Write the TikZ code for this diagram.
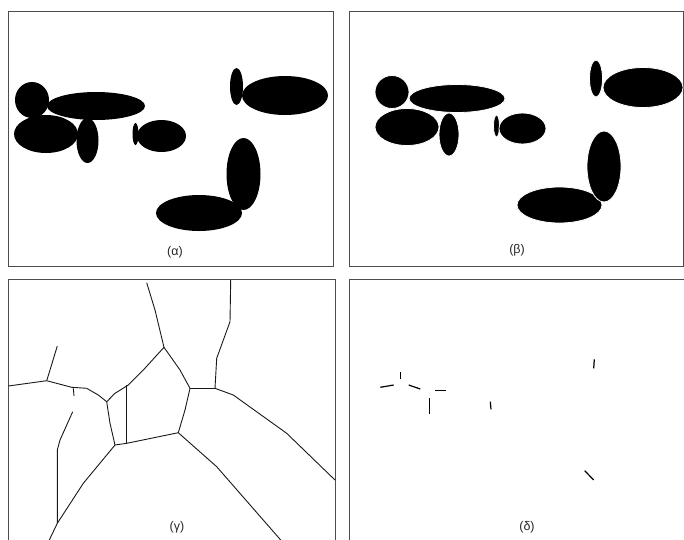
\documentclass[tikz,border=0pt]{standalone}
\usepackage{fontspec}
\setmainfont{Liberation Sans}
\begin{document}
\begin{tikzpicture}[x=1pt,y=-1pt,
  frame/.style={draw=black!70,line width=0.9pt},
  blob/.style={fill=black},
  blobsep/.style={fill=black,draw=white,line width=0.8pt},
  edge/.style={draw=black!90,line width=0.9pt,line join=round},
  seg/.style={draw=black,line width=1.2pt},
  lab/.style={font=\fontsize{12.5}{14}\selectfont,text=black!85}]
\useasboundingbox (0,0) rectangle (684,539);
\fill[white] (0,0) rectangle (684,539);
% frames
\draw[frame] (8,11) rectangle (333,266);
\draw[frame] (349,11) rectangle (683.5,266);
\draw[frame] (8,545) -- (8,279) -- (335,279) -- (335,545);
\draw[frame] (349,545) -- (349,279) -- (690,279);
% panel alpha
\fill[blob] (32,100) ellipse [x radius=17,y radius=18];
\fill[blob] (96,106) ellipse [x radius=49,y radius=14];
\fill[blob] (46,134) ellipse [x radius=32,y radius=19];
\fill[blob] (87.5,140.5) ellipse [x radius=11,y radius=22.5];
\fill[blob] (135.5,134) ellipse [x radius=3,y radius=11];
\fill[blob] (161.5,136) ellipse [x radius=24.5,y radius=16];
\fill[blob] (236.5,86.5) ellipse [x radius=6.5,y radius=18.5];
\fill[blob] (285,95.5) ellipse [x radius=43,y radius=19.5];
\fill[blob] (199,213) ellipse [x radius=43,y radius=18];
\fill[blob] (243.5,174) ellipse [x radius=17,y radius=36];
\node[lab] (la) at (175,252) {(α)};
% panel beta
\filldraw[blobsep] (392,92) ellipse [x radius=17,y radius=16.5];
\filldraw[blobsep] (457,98.5) ellipse [x radius=48,y radius=14];
\filldraw[blobsep] (407,127) ellipse [x radius=32,y radius=18.5];
\filldraw[blobsep] (449,134.5) ellipse [x radius=10,y radius=21.5];
\filldraw[blobsep] (496.5,126) ellipse [x radius=3,y radius=11];
\filldraw[blobsep] (522.5,128.5) ellipse [x radius=23.5,y radius=15.5];
\filldraw[blobsep] (596,78.5) ellipse [x radius=6.5,y radius=18.5];
\filldraw[blobsep] (643,87.5) ellipse [x radius=40,y radius=20];
\filldraw[blobsep] (559.5,205) ellipse [x radius=42.5,y radius=18];
\filldraw[blobsep] (604,166.5) ellipse [x radius=17,y radius=35.5];
\node[lab] (lb) at (517,250) {(β)};
% panel gamma
\coordinate (A) at (164,347.3);
\coordinate (B) at (190,388.3);
\coordinate (C) at (106.7,401.7);
\coordinate (D) at (115,445);
\coordinate (E) at (178.3,432.7);
\coordinate (F) at (215,388.3);
\coordinate (G) at (46.7,380.7);
\coordinate (H) at (57.3,523.3);
\draw[edge] (146.7,282.7) -- (155,310) -- (A);
\draw[edge] (A) -- (180,370) -- (B);
\draw[edge] (A) -- (143.3,370) -- (128.3,385) -- (115,393.3) -- (C);
\draw[edge] (8.3,386) -- (G) -- (71.7,387.3) -- (86.7,388.3) -- (98.3,395) -- (C);
\draw[edge] (G) -- (50,370) -- (57.3,346);
\draw[edge] (73.3,388.3) -- (74,396);
\draw[edge] (72.7,411.7) -- (60,440) -- (57.3,450) -- (H);
\draw[edge] (D) -- (83.3,483.3) -- (H) -- (49.3,540);
\draw[edge] (C) -- (110,423.3) -- (D);
\draw[edge] (126.7,385) -- (126.7,443.3);
\draw[edge] (D) -- (126.7,443.3) -- (E);
\draw[edge] (E) -- (185,410) -- (B);
\draw[edge] (B) -- (F);
\draw[edge] (F) -- (216.7,358.3) -- (230,321.7) -- (230.7,280);
\draw[edge] (F) -- (233.3,395) -- (286.7,433.3) -- (335,480);
\draw[edge] (E) -- (216.7,466.7) -- (280.7,540);
\node[lab] (lg) at (177,527) {(γ)};
% panel delta
\draw[seg] (380.3,387.3) -- (393.7,385);
\draw[seg] (400.3,371.7) -- (400.3,379.3);
\draw[seg] (408.7,385) -- (420.3,389);
\draw[seg] (435.3,390.7) -- (446,390.7);
\draw[seg] (429.7,398.3) -- (429.7,414);
\draw[seg] (490.3,401.7) -- (491,409.3);
\draw[seg] (594.3,359.3) -- (593.7,368.3);
\draw[seg] (584.7,470.7) -- (593.7,480);
\node[lab] (ld) at (527,527) {(δ)};
\end{tikzpicture}
\end{document}
